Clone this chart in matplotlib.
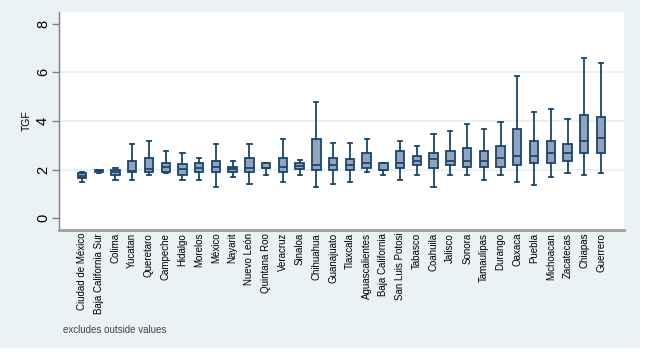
import matplotlib
matplotlib.use("Agg")
import matplotlib.pyplot as plt
from matplotlib.patches import Rectangle

states = ["Ciudad de México", "Baja California Sur", "Colima", "Yucatan", "Queretaro",
          "Campeche", "Hidalgo", "Morelos", "México", "Nayarit", "Nuevo León",
          "Quintana Roo", "Veracruz", "Sinaloa", "Chihuahua", "Guanajuato", "Tlaxcala",
          "Aguascalientes", "Baja California", "San Luis Potosi", "Tabasco", "Coahuila",
          "Jalisco", "Sonora", "Tamaulipas", "Durango", "Oaxaca", "Puebla", "Michoacan",
          "Zacatecas", "Chiapas", "Guerrero"]

whislo = [1.50, 1.88, 1.57, 1.57, 1.78, 1.88, 1.57, 1.57, 1.29, 1.68, 1.42,
          1.78, 1.49, 1.78, 1.30, 1.40, 1.49, 1.89, 1.78, 1.59, 1.78, 1.30,
          1.78, 1.78, 1.59, 1.78, 1.49, 1.38, 1.68, 1.88, 1.78, 1.88]
q1 = [1.66, 1.90, 1.78, 1.89, 1.89, 1.89, 1.79, 1.89, 1.89, 1.89, 1.89,
      2.08, 1.89, 2.01, 2.00, 2.00, 2.00, 2.08, 2.00, 2.08, 2.18, 2.08,
      2.19, 2.10, 2.09, 2.10, 2.19, 2.27, 2.27, 2.37, 2.68, 2.68]
med = [1.75, 1.94, 1.89, 1.96, 2.01, 2.10, 2.01, 2.08, 2.12, 2.01, 2.08,
       2.08, 2.09, 2.15, 2.19, 2.19, 2.19, 2.26, 2.00, 2.29, 2.36, 2.42,
       2.37, 2.37, 2.37, 2.49, 2.57, 2.57, 2.68, 2.68, 3.16, 3.29]
q3 = [1.85, 1.98, 1.99, 2.37, 2.48, 2.27, 2.22, 2.27, 2.37, 2.12, 2.48,
      2.29, 2.47, 2.26, 3.27, 2.48, 2.44, 2.68, 2.29, 2.78, 2.57, 2.67,
      2.78, 2.88, 2.78, 2.98, 3.67, 3.16, 3.16, 3.07, 4.26, 4.18]
whishi = [1.89, 2.00, 2.08, 3.07, 3.16, 2.78, 2.67, 2.48, 3.07, 2.37, 3.07,
          2.29, 3.27, 2.38, 4.77, 3.08, 3.08, 3.27, 2.29, 3.17, 2.97, 3.48,
          3.59, 3.88, 3.69, 3.97, 5.86, 4.38, 4.48, 4.09, 6.58, 6.37]
yticks = [0, 2, 4, 6, 8]

FONT = ["Liberation Sans", "DejaVu Sans"]

W, H = 651, 356
fig = plt.figure(figsize=(W / 100, H / 100), dpi=100, facecolor="white")
bg = Rectangle((0, 1 - 348 / H), 640 / W, 348 / H, transform=fig.transFigure,
               facecolor="#eaf2f3", edgecolor="none", zorder=-10)
fig.patches.append(bg)

ax = fig.add_axes([59 / W, (H - 230) / H, (624 - 59) / W, 218 / H])
ax.set_zorder(1)
ax.set_facecolor("white")

n = len(states)
pos = list(range(1, n + 1))
stats = []
for i in range(n):
    stats.append(dict(whislo=whislo[i], q1=q1[i], med=med[i], q3=q3[i], whishi=whishi[i],
                      fliers=[], label=states[i]))

edge = "#1a476f"
ax.bxp(stats, positions=pos, widths=0.5, capwidths=0.25, patch_artist=True, showfliers=False,
       boxprops=dict(facecolor="#90a4bb", edgecolor=edge, linewidth=1.3),
       medianprops=dict(color=edge, linewidth=1.3),
       whiskerprops=dict(color=edge, linewidth=1.3),
       capprops=dict(color=edge, linewidth=1.3), zorder=3)

sp = (601 - 82) / (n - 1)
ax.set_xlim(1 - 23 / sp, n + 23 / sp)
ax.set_ylim(-0.48, 8.48)
for g in [2, 4, 6]:
    ax.axhline(g, color="#eaf2f3", linewidth=1.5, zorder=1)

ax.set_yticks(yticks)
ax.set_yticklabels([str(t) for t in yticks], rotation=90, va="center",
                   fontsize=10.5, family=FONT)
ax.tick_params(axis="y", length=5, width=1, color="#7f7f7f", pad=1.5)
ax.set_xticks(pos)
ax.set_xticklabels(states, rotation=90, fontsize=7.0, family=FONT)
ax.tick_params(axis="x", length=0, pad=2)
ax.set_ylabel("TGF", fontsize=7.5, family=FONT)
ax.yaxis.set_label_coords((32 - 59) / 565, 0.5)

for s in ["top", "right"]:
    ax.spines[s].set_visible(False)
ax.spines["left"].set_color("#7f7f7f")
ax.spines["left"].set_linewidth(1.0)
ax.spines["bottom"].set_color("#a0a0a0")
ax.spines["bottom"].set_linewidth(2.0)

fig.text(63 / W, 1 - 330 / H, "excludes outside values", fontsize=7.0, color="#444444",
         va="center", ha="left", family=FONT)

fig.savefig("out.png", dpi=100, facecolor="white")
